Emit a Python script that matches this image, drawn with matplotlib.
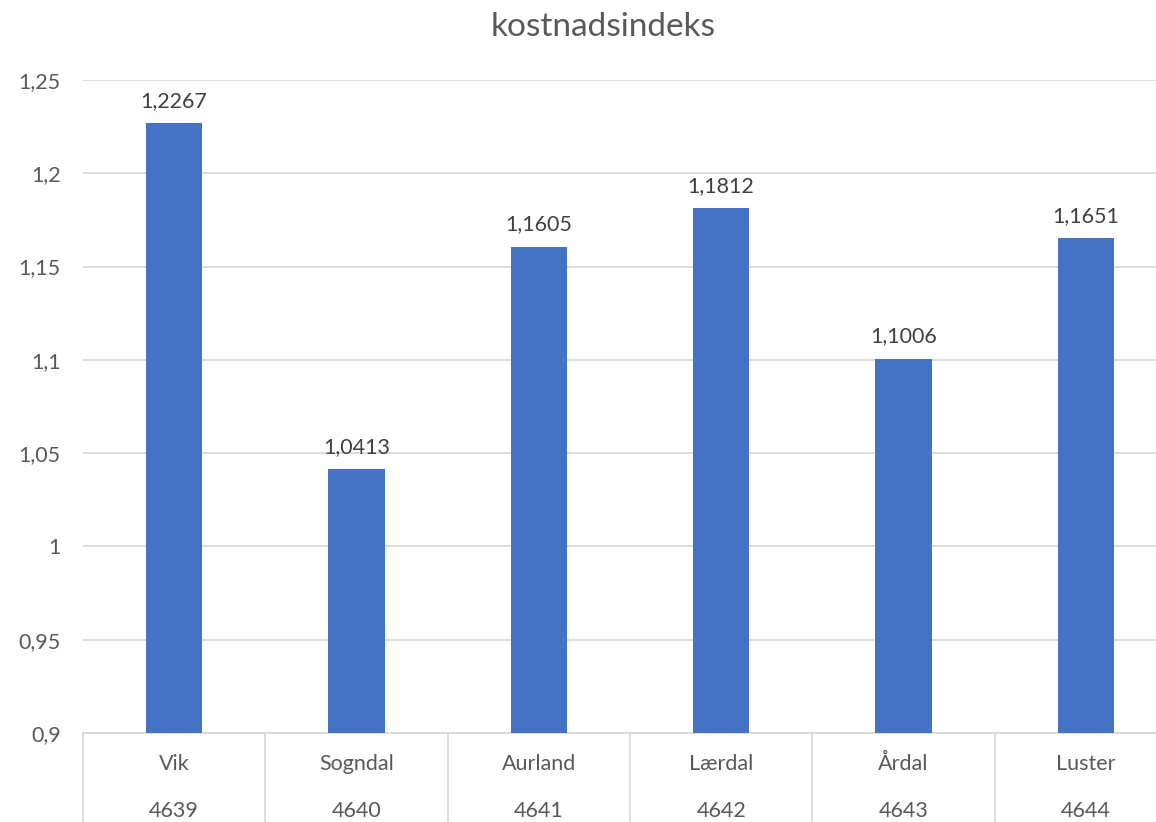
"""
kostnadsindeks per kommune - Excel-style column chart with two-level category axis
"""
import numpy as np
import matplotlib
matplotlib.use('Agg')
import matplotlib.pyplot as plt
import matplotlib.transforms as mtransforms

BAR_BLUE = '#4472C4'
GRID_GREY = '#D9D9D9'
TEXT_GREY = '#595959'
LABEL_GREY = '#404040'

plt.rcParams['font.family'] = ['Lato', 'DejaVu Sans']

# === Data ===
kommuner = ['Vik', 'Sogndal', 'Aurland', 'Lærdal', 'Årdal', 'Luster']
koder = ['4639', '4640', '4641', '4642', '4643', '4644']
indeks = [1.2267, 1.0413, 1.1605, 1.1812, 1.1006, 1.1651]
y_ticks = [0.9, 0.95, 1.0, 1.05, 1.1, 1.15, 1.2, 1.25]

FS = 15.5


def komma(v, decimals=None):
    s = f'{v:.{decimals}f}' if decimals is not None else f'{v:g}'
    return s.replace('.', ',')


fig = plt.figure(figsize=(11.56, 8.22), dpi=100, facecolor='white')
# plot area runs past the right edge like the cropped original
ax = fig.add_axes([83 / 1156, 89 / 822, 1094 / 1156, 653 / 822])

x = np.arange(len(kommuner))
bars = ax.bar(x, indeks, width=0.31, color=BAR_BLUE, zorder=3)

for xi, v in zip(x, indeks):
    ax.annotate(komma(v, 4), xy=(xi, v), xytext=(0, 9), textcoords='offset points',
                ha='center', va='bottom', fontsize=FS, color=LABEL_GREY)

ax.set_ylim(0.9, 1.25)
ax.set_xlim(-0.5, len(kommuner) - 0.5)
ax.set_yticks(y_ticks)
ax.set_yticklabels([komma(t) for t in y_ticks], fontsize=FS, color=TEXT_GREY)
ax.tick_params(axis='y', length=0, pad=16)
ax.set_xticks([])
ax.grid(axis='y', color=GRID_GREY, linewidth=1.3, zorder=0)
for s in ['top', 'right', 'left']:
    ax.spines[s].set_visible(False)
ax.spines['bottom'].set_color(GRID_GREY)
ax.spines['bottom'].set_linewidth(1.3)

# two-level category axis
trans = mtransforms.blended_transform_factory(ax.transData, ax.transAxes)
box_h = 89 / 653
for i in range(len(kommuner) + 1):
    ax.plot([i - 0.5, i - 0.5], [0, -box_h], transform=trans, color=GRID_GREY,
            linewidth=1.3, clip_on=False)
for xi, navn, kode in zip(x, kommuner, koder):
    ax.text(xi, -31 / 653, navn, transform=trans, ha='center', va='center',
            fontsize=FS, color=TEXT_GREY)
    ax.text(xi, -78 / 653, kode, transform=trans, ha='center', va='center',
            fontsize=FS, color=TEXT_GREY)

fig.text(603 / 1156, 1 - 27 / 822, 'kostnadsindeks', ha='center', va='center',
         fontsize=24, color=TEXT_GREY)

fig.savefig('out.png', dpi=100, facecolor='white')
plt.close(fig)
